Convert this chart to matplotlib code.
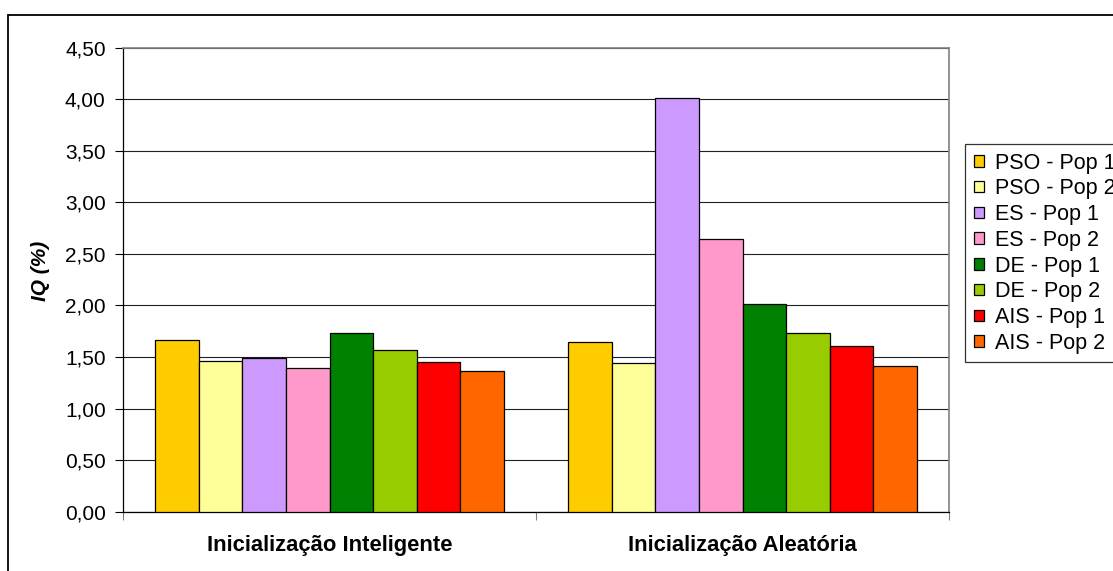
import numpy as np
import matplotlib
matplotlib.use("Agg")
import matplotlib.pyplot as plt
from matplotlib.patches import Rectangle, Patch

plt.rcParams['font.family'] = ['Liberation Sans', 'DejaVu Sans']

# grupos de inicialização e séries (algoritmo - população)
grupos = ['Inicialização Inteligente', 'Inicialização Aleatória']
series = ['PSO - Pop 1', 'PSO - Pop 2', 'ES - Pop 1', 'ES - Pop 2',
          'DE - Pop 1', 'DE - Pop 2', 'AIS - Pop 1', 'AIS - Pop 2']
cores = ['#FFCC00', '#FFFF99', '#CC99FF', '#FF99CC',
         '#008000', '#99CC00', '#FF0000', '#FF6600']

# IQ (%) por série, [inteligente, aleatória]
iq = [
    [1.67, 1.65],
    [1.46, 1.44],
    [1.49, 4.01],
    [1.39, 2.64],
    [1.73, 2.01],
    [1.57, 1.73],
    [1.45, 1.61],
    [1.36, 1.41],
]

yticks = [0.0, 0.5, 1.0, 1.5, 2.0, 2.5, 3.0, 3.5, 4.0, 4.5]
ytick_labels = ['0,00', '0,50', '1,00', '1,50', '2,00', '2,50',
                '3,00', '3,50', '4,00', '4,50']

W, H = 1113, 571
fig = plt.figure(figsize=(W / 100, H / 100), dpi=100)
ax = fig.add_axes([123 / W, 1 - 511.7 / H, (949 - 123) / W, (511.7 - 47.7) / H])

x = np.arange(len(grupos))
n = len(series)
largura = 0.845 / n
for i, (nome, cor) in enumerate(zip(series, cores)):
    pos = x - 0.845 / 2 + largura * (i + 0.5)
    ax.bar(pos, iq[i], width=largura, color=cor, edgecolor='black',
           linewidth=0.9, label=nome, zorder=3)

ax.set_xlim(-0.5, len(grupos) - 0.5)
ax.set_ylim(0, 4.5)
ax.set_yticks(yticks)
ax.set_yticklabels(ytick_labels, fontsize=15)
ax.yaxis.grid(True, color='#202020', linewidth=0.8, zorder=0)
ax.tick_params(axis='y', direction='out', length=5.5, width=0.8, pad=7)

ax.set_xticks(x)
ax.set_xticklabels(grupos, fontsize=15.8, fontweight='bold')
ax.tick_params(axis='x', which='major', length=0, pad=17)
ax.set_xticks(np.arange(-0.5, len(grupos), 1.0), minor=True)
ax.tick_params(axis='x', which='minor', direction='out', length=5.5,
               width=0.8, color='#808080')

for lado in ['left', 'bottom']:
    ax.spines[lado].set_color('black')
    ax.spines[lado].set_linewidth(0.9)
for lado in ['top', 'right']:
    ax.spines[lado].set_color('#808080')
    ax.spines[lado].set_linewidth(1.2)

fig.text(40 / W, 1 - 271 / H, r'IQ (%)', rotation=90, fontsize=15,
         fontweight='bold', fontstyle='italic', ha='center', va='center')

# moldura externa do gráfico
fig.patches.append(Rectangle((8 / W, -0.2), 1.2, 0.2 + 1 - 15 / H,
                             transform=fig.transFigure, fill=False,
                             edgecolor='black', linewidth=1.3))

handles = [Patch(facecolor=c, edgecolor='black', linewidth=0.9) for c in cores]
leg = fig.legend(handles, series, loc='upper left',
                 bbox_to_anchor=(965 / W, 1 - 144 / H), borderaxespad=0,
                 fontsize=15.5, frameon=True, fancybox=False,
                 handlelength=0.5, handleheight=0.45, handletextpad=0.5,
                 labelspacing=0.22, borderpad=0.4)
leg.get_frame().set_edgecolor('black')
leg.get_frame().set_linewidth(0.9)

fig.savefig('out.png', dpi=100)
